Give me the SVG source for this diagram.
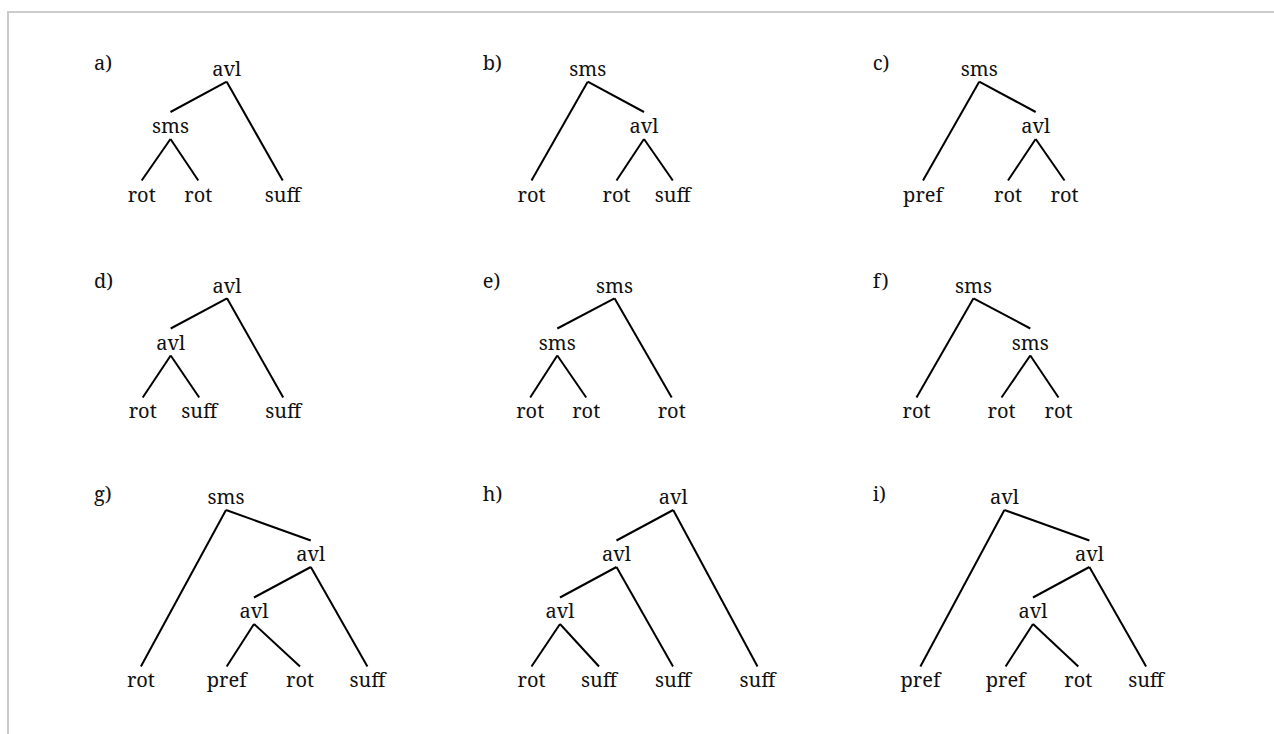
<svg xmlns="http://www.w3.org/2000/svg" width="1274" height="734" viewBox="0 0 1274 734">
<style>
text{font-family:"Noto Serif","DejaVu Serif",serif;font-size:20px;fill:#111;text-anchor:middle}
text.lab{text-anchor:start}
.e line{stroke:#000;stroke-width:2;stroke-linecap:butt}
</style>
<rect width="1274" height="734" fill="#fff"/>
<path d="M8,734V12H1274" fill="none" stroke="#ccc" stroke-width="2"/>

<!-- a -->
<g id="tree-a">
<text class="lab" x="94" y="69.5">a)</text>
<g id="a-root"><text x="226.7" y="76">avl</text></g>
<g id="a-n1"><text x="170.5" y="133">sms</text></g>
<g id="a-l1"><text x="141.7" y="201.5">rot</text></g>
<g id="a-l2"><text x="198.3" y="201.5">rot</text></g>
<g id="a-l3"><text x="282.7" y="201.5">suff</text></g>
</g>
<!-- b -->
<g id="tree-b">
<text class="lab" x="482.7" y="69.5">b)</text>
<g id="b-root"><text x="587.7" y="76">sms</text></g>
<g id="b-n1"><text x="644" y="133">avl</text></g>
<g id="b-l1"><text x="531.5" y="201.5">rot</text></g>
<g id="b-l2"><text x="616.5" y="201.5">rot</text></g>
<g id="b-l3"><text x="672.8" y="201.5">suff</text></g>
</g>
<!-- c -->
<g id="tree-c">
<text class="lab" x="872.7" y="69.5">c)</text>
<g id="c-root"><text x="979.2" y="76">sms</text></g>
<g id="c-n1"><text x="1035.7" y="133">avl</text></g>
<g id="c-l1"><text x="923" y="201.5">pref</text></g>
<g id="c-l2"><text x="1008" y="201.5">rot</text></g>
<g id="c-l3"><text x="1064.5" y="201.5">rot</text></g>
</g>
<!-- d -->
<g id="tree-d">
<text class="lab" x="94" y="288.3">d)</text>
<g id="d-root"><text x="227" y="292.5">avl</text></g>
<g id="d-n1"><text x="170.7" y="349.5">avl</text></g>
<g id="d-l1"><text x="142.7" y="418">rot</text></g>
<g id="d-l2"><text x="199.2" y="418">suff</text></g>
<g id="d-l3"><text x="283.2" y="418">suff</text></g>
</g>
<!-- e -->
<g id="tree-e">
<text class="lab" x="482.7" y="288.3">e)</text>
<g id="e-root"><text x="614.5" y="292.5">sms</text></g>
<g id="e-n1"><text x="557.3" y="349.5">sms</text></g>
<g id="e-l1"><text x="530.2" y="418">rot</text></g>
<g id="e-l2"><text x="586.2" y="418">rot</text></g>
<g id="e-l3"><text x="671.7" y="418">rot</text></g>
</g>
<!-- f -->
<g id="tree-f">
<text class="lab" x="872.7" y="288.3">f)</text>
<g id="f-root"><text x="973.5" y="292.5">sms</text></g>
<g id="f-n1"><text x="1030.3" y="349.5">sms</text></g>
<g id="f-l1"><text x="916.5" y="418">rot</text></g>
<g id="f-l2"><text x="1001.5" y="418">rot</text></g>
<g id="f-l3"><text x="1058.5" y="418">rot</text></g>
</g>
<!-- g -->
<g id="tree-g">
<text class="lab" x="94" y="500.5">g)</text>
<g id="g-root"><text x="226" y="504">sms</text></g>
<g id="g-n1"><text x="310.8" y="561">avl</text></g>
<g id="g-n2"><text x="254" y="618">avl</text></g>
<g id="g-l1"><text x="140.9" y="687">rot</text></g>
<g id="g-l2"><text x="226.7" y="687">pref</text></g>
<g id="g-l3"><text x="300" y="687">rot</text></g>
<g id="g-l4"><text x="367.4" y="687">suff</text></g>
</g>
<!-- h -->
<g id="tree-h">
<text class="lab" x="482.7" y="500.5">h)</text>
<g id="h-root"><text x="673.2" y="504">avl</text></g>
<g id="h-n1"><text x="616.5" y="561">avl</text></g>
<g id="h-n2"><text x="560" y="618">avl</text></g>
<g id="h-l1"><text x="531.5" y="687">rot</text></g>
<g id="h-l2"><text x="599" y="687">suff</text></g>
<g id="h-l3"><text x="673" y="687">suff</text></g>
<g id="h-l4"><text x="757.5" y="687">suff</text></g>
</g>
<!-- i -->
<g id="tree-i">
<text class="lab" x="872.7" y="500.5">i)</text>
<g id="i-root"><text x="1004.4" y="504">avl</text></g>
<g id="i-n1"><text x="1089.4" y="561">avl</text></g>
<g id="i-n2"><text x="1033" y="618">avl</text></g>
<g id="i-l1"><text x="920.4" y="687">pref</text></g>
<g id="i-l2"><text x="1005.6" y="687">pref</text></g>
<g id="i-l3"><text x="1078.3" y="687">rot</text></g>
<g id="i-l4"><text x="1146.1" y="687">suff</text></g>
</g>

<g id="connectors" class="e">
<!-- a -->
<line x1="226.7" y1="81.7" x2="170.5" y2="112"/>
<line x1="226.7" y1="81.7" x2="282.7" y2="180.5"/>
<line x1="170.5" y1="139" x2="141.7" y2="180.5"/>
<line x1="170.5" y1="139" x2="198.3" y2="180.5"/>
<!-- b -->
<line x1="587.7" y1="81.7" x2="531.5" y2="180.5"/>
<line x1="587.7" y1="81.7" x2="644" y2="112"/>
<line x1="644" y1="139" x2="616.5" y2="180.5"/>
<line x1="644" y1="139" x2="672.8" y2="180.5"/>
<!-- c -->
<line x1="979.2" y1="81.7" x2="923" y2="180.5"/>
<line x1="979.2" y1="81.7" x2="1035.7" y2="112"/>
<line x1="1035.7" y1="139" x2="1008" y2="180.5"/>
<line x1="1035.7" y1="139" x2="1064.5" y2="180.5"/>
<!-- d -->
<line x1="227" y1="298.3" x2="170.7" y2="328.5"/>
<line x1="227" y1="298.3" x2="283.2" y2="397.5"/>
<line x1="170.7" y1="355.5" x2="142.7" y2="397.5"/>
<line x1="170.7" y1="355.5" x2="199.2" y2="397.5"/>
<!-- e -->
<line x1="614.5" y1="298.3" x2="557.3" y2="328.5"/>
<line x1="614.5" y1="298.3" x2="671.7" y2="397.5"/>
<line x1="557.3" y1="355.5" x2="530.2" y2="397.5"/>
<line x1="557.3" y1="355.5" x2="586.2" y2="397.5"/>
<!-- f -->
<line x1="973.5" y1="298.3" x2="916.5" y2="397.5"/>
<line x1="973.5" y1="298.3" x2="1030.3" y2="328.5"/>
<line x1="1030.3" y1="355.5" x2="1001.5" y2="397.5"/>
<line x1="1030.3" y1="355.5" x2="1058.5" y2="397.5"/>
<!-- g -->
<line x1="226" y1="510" x2="140.9" y2="666.5"/>
<line x1="226" y1="510" x2="310.8" y2="540.5"/>
<line x1="310.8" y1="567" x2="254" y2="597.5"/>
<line x1="310.8" y1="567" x2="367.4" y2="666.5"/>
<line x1="254" y1="624" x2="226.7" y2="666.5"/>
<line x1="254" y1="624" x2="300" y2="666.5"/>
<!-- h -->
<line x1="673.2" y1="510" x2="616.5" y2="540.5"/>
<line x1="673.2" y1="510" x2="757.5" y2="666.5"/>
<line x1="616.5" y1="567" x2="560" y2="597.5"/>
<line x1="616.5" y1="567" x2="673" y2="666.5"/>
<line x1="560" y1="624" x2="531.5" y2="666.5"/>
<line x1="560" y1="624" x2="599" y2="666.5"/>
<!-- i -->
<line x1="1004.4" y1="510" x2="920.4" y2="666.5"/>
<line x1="1004.4" y1="510" x2="1089.4" y2="540.5"/>
<line x1="1089.4" y1="567" x2="1033" y2="597.5"/>
<line x1="1089.4" y1="567" x2="1146.1" y2="666.5"/>
<line x1="1033" y1="624" x2="1005.6" y2="666.5"/>
<line x1="1033" y1="624" x2="1078.3" y2="666.5"/>
</g>
</svg>
